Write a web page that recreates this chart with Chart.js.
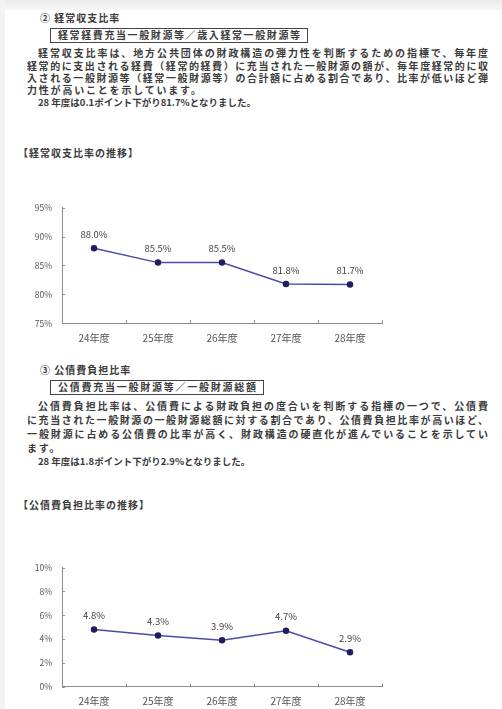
<!DOCTYPE html>
<html lang="ja">
<head>
<meta charset="utf-8">
<title>経常収支比率・公債費負担比率</title>
<script src="https://cdn.jsdelivr.net/npm/chart.js@4/dist/chart.umd.min.js"></script>
<style>
  html, body { margin: 0; padding: 0; background: #fff; }
  .page {
    position: relative; width: 502px; height: 709px; overflow: hidden;
    background: #fff;
    font-family: "Noto Sans CJK JP", "Noto Sans", sans-serif;
    color: #3a3a3a; font-size: 10px; font-weight: 700; letter-spacing: 1.8px;
  }
  .edge-top { position: absolute; left: 0; top: 0; width: 502px; height: 10px;
    background: linear-gradient(#ececec, #f6f6f6); }
  .edge-left { position: absolute; left: 0; top: 0; width: 5px; height: 709px; background: #f3f3f3; }
  .ln { position: absolute; line-height: 12px; height: 12px; white-space: nowrap; }
  .full { text-align: justify; text-align-last: justify; white-space: normal;
    letter-spacing: 0; overflow: hidden; }
  .note { font-size: 9.5px; letter-spacing: 0; }
  .box { position: absolute; border: 1px solid #444; box-sizing: border-box; letter-spacing: 0;
    line-height: 12px; text-align: justify; text-align-last: justify; padding: 0 7px; }
  canvas { position: absolute; letter-spacing: 0; }
</style>
</head>
<body>
<div class="page">
  <div class="edge-top"></div>
  <div class="edge-left"></div>

  <!-- 経常収支比率 -->
  <div class="ln" style="left:40px; top:12px; letter-spacing:1px;">② 経常収支比率</div>
  <div class="box" style="left:50px; top:28px; width:258px; height:15px;">経常経費充当一般財源等／歳入経常一般財源等</div>
  <div class="ln full" style="left:38px; top:47px; width:450px;">経常収支比率は、地方公共団体の財政構造の弾力性を判断するための指標で、毎年度</div>
  <div class="ln full" style="left:27px; top:60px; width:461px;">経常的に支出される経費（経常的経費）に充当された一般財源の額が、毎年度経常的に収</div>
  <div class="ln full" style="left:27px; top:72px; width:461px;">入される一般財源等（経常一般財源等）の合計額に占める割合であり、比率が低いほど弾</div>
  <div class="ln" style="left:27px; top:84px;">力性が高いことを示しています。</div>
  <div class="ln note" style="left:38px; top:96px;">28 年度は0.1ポイント下がり81.7%となりました。</div>
  <div class="ln" style="left:18px; top:147px; letter-spacing:1px;">【経常収支比率の推移】</div>
  <canvas id="chart1" style="left:0; top:190px;" width="400" height="160"></canvas>

  <!-- 公債費負担比率 -->
  <div class="ln" style="left:40px; top:364px; letter-spacing:1px;">③ 公債費負担比率</div>
  <div class="box" style="left:50px; top:380px; width:214px; height:15px;">公債費充当一般財源等／一般財源総額</div>
  <div class="ln full" style="left:38px; top:400px; width:450px;">公債費負担比率は、公債費による財政負担の度合いを判断する指標の一つで、公債費</div>
  <div class="ln full" style="left:27px; top:414px; width:461px;">に充当された一般財源の一般財源総額に対する割合であり、公債費負担比率が高いほど、</div>
  <div class="ln full" style="left:27px; top:428px; width:461px;">一般財源に占める公債費の比率が高く、財政構造の硬直化が進んでいることを示してい</div>
  <div class="ln" style="left:27px; top:442px;">ます。</div>
  <div class="ln note" style="left:38px; top:455px;">28 年度は1.8ポイント下がり2.9%となりました。</div>
  <div class="ln" style="left:18px; top:499px; letter-spacing:1px;">【公債費負担比率の推移】</div>
  <canvas id="chart2" style="left:0; top:550px;" width="400" height="159"></canvas>
</div>

<script>
const years = ["24年度", "25年度", "26年度", "27年度", "28年度"];

// 経常収支比率 (%)
const ordinaryRatio = [88.0, 85.5, 85.5, 81.8, 81.7];
const ordinaryTicks = { min: 75, max: 95, step: 5 };

// 公債費負担比率 (%)
const debtRatio = [4.8, 4.3, 3.9, 4.7, 2.9];
const debtTicks = { min: 0, max: 10, step: 2 };

const LINE_COLOR = "#4c4ca6";
const POINT_COLOR = "#1d1d60";
const AXIS_COLOR = "#8c8c8c";
const TEXT_COLOR = "#555";
const FONT = "'Noto Sans CJK JP', 'Noto Sans', sans-serif";

/* value labels above each point */
const pointLabels = {
  id: "pointLabels",
  afterDatasetsDraw(chart) {
    const ctx = chart.ctx;
    const meta = chart.getDatasetMeta(0);
    const values = chart.data.datasets[0].data;
    ctx.save();
    ctx.font = "9.5px " + FONT;
    ctx.fillStyle = "#444";
    ctx.textAlign = "center";
    ctx.textBaseline = "middle";
    meta.data.forEach((pt, i) => {
      ctx.fillText(values[i].toFixed(1) + "%", pt.x, pt.y - 14);
    });
    ctx.restore();
  }
};

/* short inner tick marks on both axes */
const innerTicks = {
  id: "innerTicks",
  afterDraw(chart) {
    const { ctx, chartArea } = chart;
    const xs = chart.scales.x, ys = chart.scales.y;
    ctx.save();
    ctx.strokeStyle = AXIS_COLOR;
    ctx.lineWidth = 1;
    ctx.beginPath();
    ys.ticks.forEach((t, i) => {
      const y = Math.round(ys.getPixelForTick(i)) + 0.5;
      ctx.moveTo(chartArea.left, y);
      ctx.lineTo(chartArea.left + 3, y);
    });
    for (let i = 0; i < xs.ticks.length; i++) {
      const a = xs.getPixelForTick(i);
      const b = i < xs.ticks.length - 1 ? xs.getPixelForTick(i + 1) : chartArea.right + (chartArea.right - a);
      const x = Math.round((a + b) / 2) + 0.5;
      ctx.moveTo(x, chartArea.bottom);
      ctx.lineTo(x, chartArea.bottom - 3);
    }
    ctx.stroke();
    ctx.restore();
  }
};

function makeChart(id, values, range, axisHeight) {
  return new Chart(document.getElementById(id), {
    type: "line",
    data: {
      labels: years,
      datasets: [{
        data: values,
        borderColor: LINE_COLOR,
        borderWidth: 1.5,
        pointBackgroundColor: POINT_COLOR,
        pointBorderColor: POINT_COLOR,
        pointRadius: 2.5,
        tension: 0
      }]
    },
    options: {
      responsive: false,
      animation: false,
      events: [],
      layout: { padding: { top: 17.7, right: 18, left: 0, bottom: 0 } },
      plugins: { legend: { display: false }, tooltip: { enabled: false } },
      scales: {
        x: {
          offset: true,
          grid: { display: true, drawOnChartArea: false, drawTicks: false },
          border: { display: true, color: AXIS_COLOR, width: 1 },
          ticks: { color: TEXT_COLOR, font: { family: FONT, size: 10 }, padding: 9, maxRotation: 0 },
          afterFit(scale) { scale.height = axisHeight; }
        },
        y: {
          min: range.min,
          max: range.max,
          grid: { display: true, drawOnChartArea: false, drawTicks: false },
          border: { display: true, color: AXIS_COLOR, width: 1 },
          ticks: {
            stepSize: range.step,
            color: TEXT_COLOR,
            font: { family: FONT, size: 8.5 },
            padding: 10,
            callback: v => v + "%"
          },
          afterFit(scale) { scale.width = 62; }
        }
      }
    },
    plugins: [pointLabels, innerTicks]
  });
}

makeChart("chart1", ordinaryRatio, ordinaryTicks, 26.7);
makeChart("chart2", debtRatio, debtTicks, 22.3);
</script>
</body>
</html>
